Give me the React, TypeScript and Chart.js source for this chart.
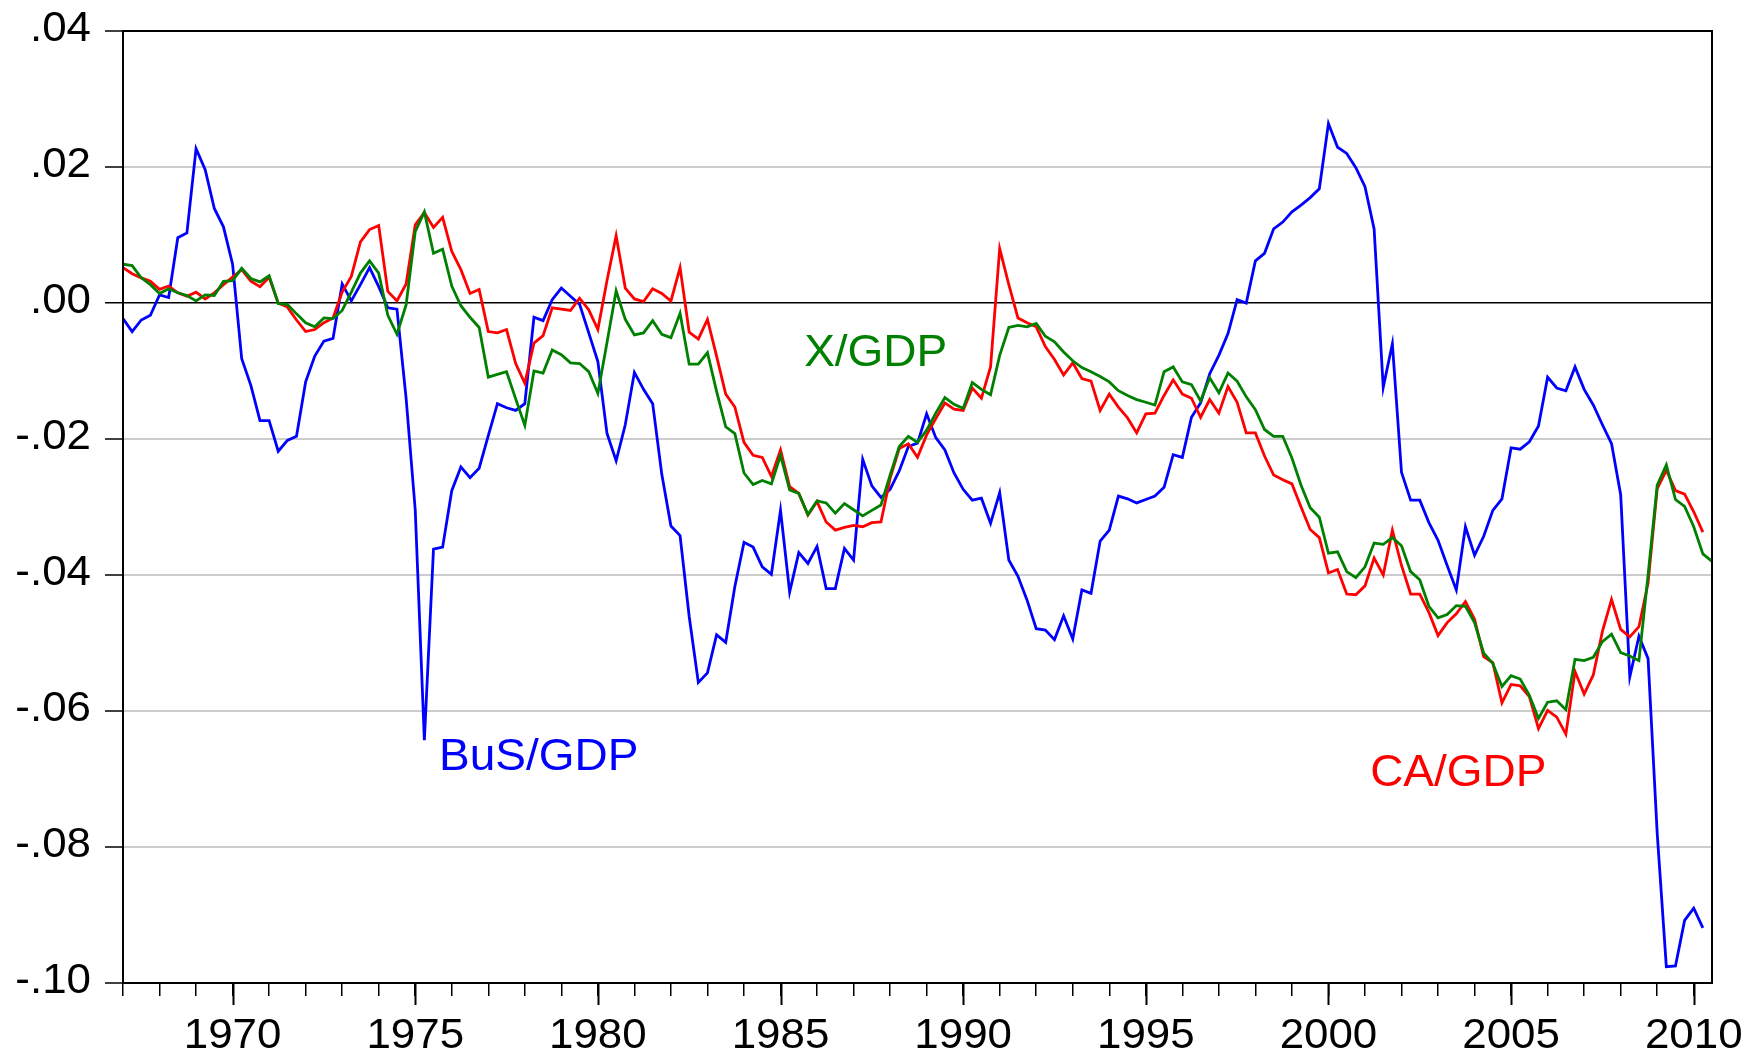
import React, { useEffect, useRef } from "react";
import { Chart, registerables } from "chart.js";

Chart.register(...registerables);

// First observation: 1967Q1, quarterly data
const FIRST_YEAR = 1967;
const PERIODS_PER_YEAR = 4;

const busGdp = [
  -0.0023, -0.0042, -0.0025, -0.0018, 0.0012, 0.0008, 0.0096, 0.0103, 0.0227, 0.0196,
  0.0139, 0.0112, 0.0057, -0.0082, -0.0121, -0.0173, -0.0173, -0.0218, -0.0202, -0.0196,
  -0.0116, -0.0078, -0.0056, -0.0052, 0.0028, 0.0003, 0.0027, 0.0052, 0.0024, -0.0007,
  -0.0009, -0.014, -0.0304, -0.0643, -0.0362, -0.0359, -0.0276, -0.0241, -0.0257, -0.0243,
  -0.0195, -0.0148, -0.0154, -0.0158, -0.0148, -0.0021, -0.0026, 0.0005, 0.0022, 0.001,
  -0.0002, -0.0044, -0.0086, -0.0192, -0.0232, -0.0179, -0.0102, -0.0127, -0.0148, -0.0252,
  -0.0328, -0.0342, -0.0461, -0.0558, -0.0544, -0.0488, -0.0499, -0.0417, -0.0352, -0.0359,
  -0.0388, -0.0399, -0.0305, -0.0425, -0.0367, -0.0383, -0.0358, -0.042, -0.042, -0.0361,
  -0.0378, -0.023, -0.0269, -0.0286, -0.0274, -0.0247, -0.0211, -0.0206, -0.0163, -0.0198,
  -0.0216, -0.025, -0.0274, -0.029, -0.0287, -0.0324, -0.0279, -0.0378, -0.0402, -0.0437,
  -0.0479, -0.0481, -0.0495, -0.046, -0.0494, -0.0422, -0.0427, -0.035, -0.0334, -0.0284,
  -0.0288, -0.0294, -0.0289, -0.0284, -0.0271, -0.0223, -0.0227, -0.0168, -0.0147, -0.0104,
  -0.0077, -0.0045, 0.0005, 0.0, 0.0062, 0.0073, 0.0109, 0.0119, 0.0134, 0.0144,
  0.0155, 0.0168, 0.0264, 0.0229, 0.022, 0.0199, 0.0171, 0.0109, -0.0124, -0.006,
  -0.0249, -0.029, -0.029, -0.0323, -0.0349, -0.0386, -0.0422, -0.0329, -0.0371, -0.0343,
  -0.0305, -0.0288, -0.0213, -0.0215, -0.0204, -0.0181, -0.0109, -0.0125, -0.0129, -0.0094,
  -0.0127, -0.015, -0.0179, -0.0207, -0.0282, -0.055, -0.049, -0.0523, -0.078, -0.0976,
  -0.0975, -0.0908, -0.089, -0.0919,
];

const caGdp = [
  0.0052, 0.0043, 0.0037, 0.0032, 0.002, 0.0025, 0.0015, 0.001, 0.0016, 0.0006,
  0.0015, 0.0027, 0.0038, 0.0049, 0.0032, 0.0024, 0.0038, 0.0, -0.0006, -0.0025,
  -0.0042, -0.0039, -0.0029, -0.0022, 0.0016, 0.0039, 0.009, 0.0108, 0.0114, 0.0017,
  0.0003, 0.0028, 0.0115, 0.0133, 0.0111, 0.0126, 0.0076, 0.0049, 0.0014, 0.002,
  -0.0042, -0.0044, -0.0039, -0.0089, -0.0118, -0.0059, -0.0048, -0.0007, -0.0009, -0.0011,
  0.0007, -0.001, -0.0039, 0.0033, 0.0099, 0.0022, 0.0006, 0.0002, 0.0021, 0.0014,
  0.0003, 0.0052, -0.0043, -0.0053, -0.0024, -0.0078, -0.0134, -0.0153, -0.0205, -0.0224,
  -0.0227, -0.0255, -0.0216, -0.027, -0.028, -0.0312, -0.0292, -0.0322, -0.0334, -0.033,
  -0.0327, -0.0329, -0.0323, -0.0322, -0.0258, -0.0214, -0.0207, -0.0227, -0.0194, -0.017,
  -0.0147, -0.0156, -0.0158, -0.0125, -0.014, -0.0094, 0.008, 0.0027, -0.0022, -0.0029,
  -0.0035, -0.0064, -0.0083, -0.0106, -0.0088, -0.0111, -0.0115, -0.0158, -0.0134, -0.0153,
  -0.0169, -0.0191, -0.0163, -0.0162, -0.0136, -0.0113, -0.0134, -0.014, -0.0168, -0.0142,
  -0.0162, -0.0123, -0.0146, -0.0191, -0.0191, -0.0225, -0.0253, -0.026, -0.0266, -0.03,
  -0.0333, -0.0345, -0.0397, -0.0392, -0.0428, -0.0429, -0.0416, -0.0375, -0.04, -0.0334,
  -0.0386, -0.0428, -0.0428, -0.0455, -0.0489, -0.047, -0.0457, -0.0439, -0.0465, -0.052,
  -0.0529, -0.0588, -0.0561, -0.0563, -0.0579, -0.0626, -0.0599, -0.0609, -0.0634, -0.0542,
  -0.0575, -0.0547, -0.0483, -0.0436, -0.048, -0.0491, -0.0476, -0.0412, -0.0273, -0.0246,
  -0.0276, -0.0281, -0.0307, -0.0337,
];

const xGdp = [
  0.0057, 0.0055, 0.0037, 0.0027, 0.0014, 0.0021, 0.0015, 0.0011, 0.0003, 0.0012,
  0.0011, 0.0032, 0.0033, 0.0051, 0.0036, 0.0031, 0.004, -0.0001, -0.0002, -0.0016,
  -0.0029, -0.0035, -0.0022, -0.0023, -0.0011, 0.0016, 0.0044, 0.0062, 0.0044, -0.0018,
  -0.0046, -0.0003, 0.0105, 0.0134, 0.0073, 0.0079, 0.0025, -0.0004, -0.0021, -0.0036,
  -0.0109, -0.0105, -0.0101, -0.0141, -0.018, -0.01, -0.0103, -0.0069, -0.0076, -0.0088,
  -0.0089, -0.0101, -0.0133, -0.0058, 0.0018, -0.0024, -0.0047, -0.0044, -0.0026, -0.0046,
  -0.0051, -0.0015, -0.009, -0.009, -0.0073, -0.013, -0.0182, -0.0192, -0.025, -0.0267,
  -0.0261, -0.0266, -0.0224, -0.0275, -0.028, -0.0311, -0.0291, -0.0294, -0.0309, -0.0295,
  -0.0304, -0.0313, -0.0305, -0.0297, -0.0253, -0.0211, -0.0196, -0.0205, -0.0187, -0.0162,
  -0.0139, -0.0149, -0.0155, -0.0117, -0.0127, -0.0135, -0.0077, -0.0036, -0.0033, -0.0035,
  -0.003, -0.0049, -0.0057, -0.0072, -0.0085, -0.0095, -0.0101, -0.0108, -0.0116, -0.0129,
  -0.0136, -0.0142, -0.0146, -0.015, -0.0101, -0.0094, -0.0116, -0.012, -0.0144, -0.011,
  -0.0132, -0.0103, -0.0115, -0.0138, -0.0157, -0.0186, -0.0196, -0.0196, -0.0228, -0.0268,
  -0.0301, -0.0315, -0.0368, -0.0366, -0.0395, -0.0404, -0.0388, -0.0353, -0.0355, -0.0345,
  -0.0357, -0.0395, -0.0407, -0.0446, -0.0463, -0.0458, -0.0445, -0.0446, -0.047, -0.0515,
  -0.053, -0.0564, -0.0548, -0.0553, -0.0577, -0.0611, -0.0587, -0.0585, -0.0598, -0.0524,
  -0.0526, -0.0521, -0.0498, -0.0487, -0.0514, -0.0519, -0.0526, -0.04, -0.0268, -0.0238,
  -0.0289, -0.0299, -0.0329, -0.0369, -0.038,
];

const yTickValues = [0.04, 0.02, 0.0, -0.02, -0.04, -0.06, -0.08, -0.1];
const majorYearTicks = [1970, 1975, 1980, 1985, 1990, 1995, 2000, 2005, 2010];

const seriesLabels = ["BuS/GDP", "CA/GDP", "X/GDP"];
const seriesColors = ["#0000ff", "#ff0000", "#008000"];
// annotation anchors in data units (centre year, baseline value)
const labelYears = [1978.38, 2003.555, 1987.605];
const labelValues = [-0.0687, -0.0711, -0.00926];

const FONT = '"Liberation Sans", Arial, sans-serif';
const W = 1762;
const H = 1055;

function toPoints(values: number[]) {
  return values.map((v, i) => ({ x: FIRST_YEAR + i / PERIODS_PER_YEAR, y: v }));
}

function fmtY(v: number) {
  const r = Math.round(v * 100);
  if (r === 0) return ".00";
  const s = Math.abs(r).toString().padStart(2, "0");
  return (r < 0 ? "-." : ".") + s;
}

function stretchText(ctx: CanvasRenderingContext2D, text: string, x: number, y: number, sx: number) {
  ctx.save();
  ctx.translate(x, y);
  ctx.scale(sx, 1);
  ctx.fillText(text, 0, 0);
  ctx.restore();
}

export default function App() {
  const ref = useRef<HTMLCanvasElement | null>(null);

  useEffect(() => {
    if (!ref.current) return;

    const framePlugin = {
      id: "frameAndLabels",
      afterDatasetsDraw(chart: any) {
        const { ctx, scales } = chart;
        ctx.save();
        ctx.font = `44px ${FONT}`;
        ctx.textAlign = "center";
        ctx.textBaseline = "alphabetic";
        seriesLabels.forEach((t, i) => {
          ctx.fillStyle = seriesColors[i];
          stretchText(
            ctx,
            t,
            scales.x.getPixelForValue(labelYears[i]),
            scales.y.getPixelForValue(labelValues[i]),
            1.045
          );
        });
        ctx.restore();
      },
      afterDraw(chart: any) {
        const { ctx, chartArea, scales } = chart;
        ctx.save();
        ctx.strokeStyle = "#000";
        ctx.lineWidth = 2;
        ctx.strokeRect(chartArea.left, chartArea.top, chartArea.right - chartArea.left, chartArea.bottom - chartArea.top);
        // longer major year ticks
        majorYearTicks.forEach((yr) => {
          const px = Math.round(scales.x.getPixelForValue(yr)) + 0.5;
          ctx.beginPath();
          ctx.moveTo(px, chartArea.bottom);
          ctx.lineTo(px, chartArea.bottom + 22);
          ctx.stroke();
        });
        // tick labels
        ctx.fillStyle = "#000";
        ctx.font = `42px ${FONT}`;
        ctx.textBaseline = "alphabetic";
        ctx.textAlign = "right";
        yTickValues.forEach((v) => {
          const py = scales.y.getPixelForValue(v);
          stretchText(ctx, fmtY(v), chartArea.left - 32, py + 10, 1.045);
        });
        ctx.textAlign = "center";
        majorYearTicks.forEach((yr) => {
          stretchText(ctx, String(yr), scales.x.getPixelForValue(yr), chartArea.bottom + 65, 1.045);
        });
        ctx.restore();
      },
    };

    const chart = new Chart(ref.current, {
      type: "line",
      data: {
        datasets: [
          {
            label: seriesLabels[0],
            data: toPoints(busGdp),
            borderColor: seriesColors[0],
            borderWidth: 2.8,
            pointRadius: 0,
            order: 2,
          },
          {
            label: seriesLabels[1],
            data: toPoints(caGdp),
            borderColor: seriesColors[1],
            borderWidth: 2.8,
            pointRadius: 0,
            order: 1,
          },
          {
            label: seriesLabels[2],
            data: toPoints(xGdp),
            borderColor: seriesColors[2],
            borderWidth: 2.8,
            pointRadius: 0,
            order: 0,
          },
        ],
      },
      plugins: [framePlugin],
      options: {
        responsive: false,
        animation: false,
        events: [],
        layout: { padding: { top: 31, right: 50, left: 0, bottom: 0 }, autoPadding: false },
        plugins: { legend: { display: false }, tooltip: { enabled: false } },
        scales: {
          x: {
            type: "linear",
            min: FIRST_YEAR,
            max: 2010.5,
            afterFit: (s: any) => {
              s.height = 72;
              s.paddingLeft = 0;
              s.paddingRight = 0;
            },
            border: { display: true, color: "#000", width: 2 },
            grid: {
              drawOnChartArea: false,
              color: "#000",
              lineWidth: 1.5,
              tickLength: 13,
            },
            ticks: {
              display: false,
              stepSize: 1,
              includeBounds: false,
              autoSkip: false,
              maxRotation: 0,
              minRotation: 0,
            },
          },
          y: {
            type: "linear",
            min: -0.1,
            max: 0.04,
            afterFit: (s: any) => {
              s.width = 123;
              s.paddingTop = 0;
              s.paddingBottom = 0;
            },
            afterBuildTicks: (s: any) => {
              s.ticks = yTickValues.map((v) => ({ value: v }));
            },
            border: { display: true, color: "#000", width: 2 },
            grid: {
              color: (c: any) => (c.tick && Math.abs(c.tick.value) < 1e-9 ? "#000" : "#cccccc"),
              lineWidth: (c: any) => (c.tick && Math.abs(c.tick.value) < 1e-9 ? 1.5 : 2),
              tickColor: "#000",
              tickWidth: 1.5,
              tickLength: 18,
            },
            ticks: {
              display: false,
            },
          },
        },
      },
    } as any);

    return () => chart.destroy();
  }, []);

  return (
    <div style={{ position: "fixed", left: 0, top: 0, width: W, height: H, background: "#fff" }}>
      <canvas ref={ref} width={W} height={H} style={{ width: W, height: H, display: "block" }} />
    </div>
  );
}
